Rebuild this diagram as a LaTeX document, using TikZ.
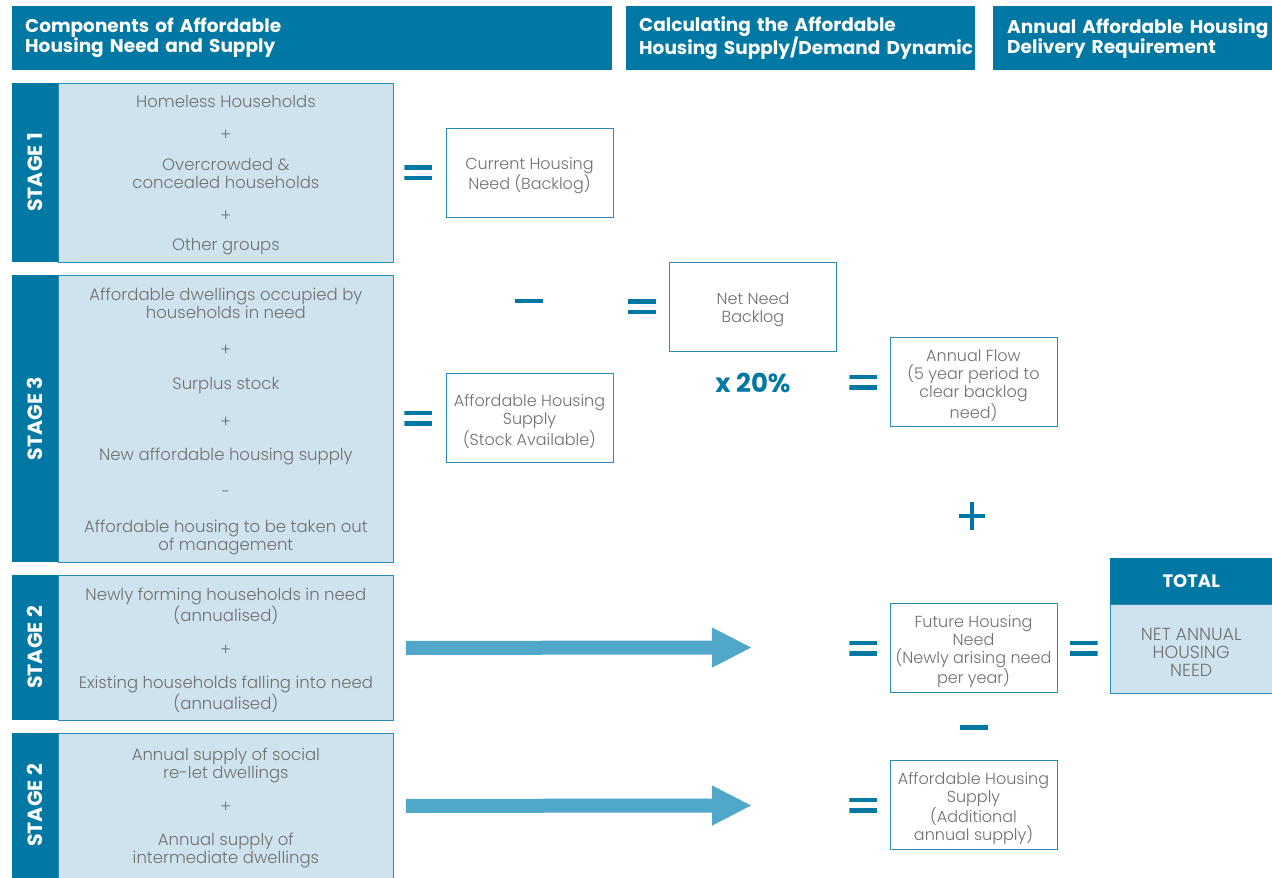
\documentclass[tikz,border=0pt]{standalone}
\usepackage{fontspec}
\setmainfont{Poppins}
\IfFontExistsTF{Poppins Light}{\newfontfamily\lightfont{Poppins Light}}{\newfontfamily\lightfont{Poppins}}
\usetikzlibrary{positioning, arrows.meta, calc}

\definecolor{headblue}{RGB}{0,120,163}
\definecolor{paleblue}{RGB}{206,227,237}
\definecolor{lineblue}{RGB}{42,140,180}
\definecolor{arrowblue}{RGB}{80,167,201}
\definecolor{textgrey}{RGB}{112,112,112}

% struts that push a block of text a little lower in its box
\newcommand{\stagestrut}{\rule{0pt}{17pt}}
\newcommand{\boxstrut}{\rule{0pt}{19pt}}

\begin{document}
\begin{tikzpicture}[
                x=1pt, y=-1pt,
                header/.style={fill=headblue, text=white, anchor=north west, inner xsep=13pt, inner ysep=0pt,
                    minimum height=64pt, align=left, font=\fontsize{18.5}{20}\selectfont\bfseries},
                stagebody/.style={fill=paleblue, draw=lineblue, line width=0.8pt, text=textgrey, anchor=north west,
                    inner sep=0pt, minimum width=335pt, align=center, font=\lightfont\fontsize{16.5}{18}\selectfont},
                stageside/.style={fill=headblue, text=white, rotate=90, inner sep=0pt, minimum height=46pt,
                    font=\fontsize{20.5}{22}\selectfont\bfseries},
                resbox/.style={draw=lineblue, line width=0.8pt, fill=white, text=textgrey, inner sep=0pt,
                    minimum width=167pt, minimum height=89pt, align=center, font=\lightfont\fontsize{16}{18}\selectfont},
                eqsign/.style={inner sep=0pt, minimum width=28pt, minimum height=15pt, path picture={
                    \fill[headblue] (path picture bounding box.north west) rectangle ([yshift=-4.5pt]path picture bounding box.north east);
                    \fill[headblue] ([yshift=4.5pt]path picture bounding box.south west) rectangle (path picture bounding box.south east);}},
                minussign/.style={inner sep=0pt, minimum width=28pt, minimum height=4.5pt, fill=headblue},
                plussign/.style={inner sep=0pt, minimum width=26pt, minimum height=28pt, path picture={
                    \draw[headblue, line width=4pt] (path picture bounding box.west) -- (path picture bounding box.east);
                    \draw[headblue, line width=4pt] (path picture bounding box.north) -- (path picture bounding box.south);}},
                fatarrow/.style={draw=arrowblue, line width=14pt, -{Triangle[length=40pt, width=37pt, fill=arrowblue]}},
            ]
                \useasboundingbox (0,0) rectangle (1272,878);

                % Column headers
                \node[header, minimum width=600pt, text width=574pt] (head-comp) at (12,6)
                    {\mbox{Components of Affordable}\\\mbox{Housing Need and Supply}};
                \node[header, minimum width=349pt, text width=323pt] (head-calc) at (626,6)
                    {\mbox{Calculating the Affordable}\\\mbox{Housing Supply/Demand Dynamic}};
                \node[header, minimum width=279pt, text width=251pt, inner xsep=14pt] (head-req) at (993,6)
                    {\mbox{Annual Affordable Housing}\\\mbox{Delivery Requirement}};

                % Stage boxes
                \node[stagebody, minimum height=179pt] (s1) at (58,83)
                    {\stagestrut Homeless Households\\[15pt] +\\[12pt] Overcrowded \&\\concealed households\\[15pt] +\\[11pt] Other groups};
                \node[stagebody, minimum height=287pt] (s3) at (58,275)
                    {\stagestrut Affordable dwellings occupied by\\households in need\\[19pt] +\\[16pt] Surplus stock\\[20pt] +\\[15pt]
                     New affordable housing supply\\[19pt] -\\[17pt] Affordable housing to be taken out\\of management};
                \node[stagebody, minimum height=145pt] (s2a) at (58,575)
                    {\stagestrut Newly forming households in need\\(annualised)\\[16pt] +\\[15pt] Existing households falling into need\\(annualised)};
                \node[stagebody, minimum height=145pt] (s2b) at (58,733)
                    {\stagestrut Annual supply of social\\re-let dwellings\\[16pt] +\\[15pt] Annual supply of\\intermediate dwellings};

                % Stage labels down the left side
                \foreach \name/\top/\bot/\num in {s1/83/262/1, s3/275/562/3, s2a/575/720/2, s2b/733/878/2}
                    \node[stageside, minimum width=\bot-\top] (side-\name) at (35,{(\top+\bot)/2}) {STAGE \num};

                % Result boxes
                \node[resbox] (cur) at (529.5,172.5) {\boxstrut Current Housing\\Need (Backlog)};
                \node[resbox] (stock) at (529.5,418) {\boxstrut Affordable Housing\\Supply\\(Stock Available)};
                \node[resbox] (net) at (753,306.5) {\boxstrut Net Need\\Backlog};
                \node[resbox] (flow) at (973.5,382) {\boxstrut Annual Flow\\(5 year period to\\clear backlog\\need)};
                \node[resbox] (future) at (973.5,648) {\boxstrut Future Housing\\Need\\(Newly arising need\\per year)};
                \node[resbox] (addl) at (973.5,805) {\boxstrut Affordable Housing\\Supply\\(Additional\\annual supply)};

                % Total
                \node[fill=headblue, text=white, anchor=north west, minimum width=162pt, minimum height=46pt,
                    inner sep=0pt, font=\fontsize{18}{20}\selectfont\bfseries] (total-head) at (1110,558) {TOTAL};
                \node[fill=paleblue, draw=lineblue, line width=0.8pt, text=textgrey, anchor=north, minimum width=162pt,
                    minimum height=89pt, inner sep=0pt, align=center, font=\lightfont\fontsize{17.5}{18}\selectfont]
                    (total-body) at (total-head.south) {\boxstrut NET ANNUAL\\HOUSING\\NEED};

                % Operators
                \node[eqsign, left=13pt of cur] (eq-cur) {};
                \node[eqsign, left=13pt of stock] (eq-stock) {};
                \node[eqsign, left=13pt of net] (eq-net) {};
                \node[eqsign, left=12pt of flow] (eq-flow) {};
                \node[eqsign, left=12pt of future] (eq-future) {};
                \node[eqsign, left=12pt of addl] (eq-addl) {};
                \node[eqsign, left=12pt of total-body.west |- future] (eq-total) {};
                \node[minussign] (minus-net) at (529,301) {};
                \node[minussign, below=32pt of future] (minus-future) {};
                \node[plussign] (plus-flow) at (972,516) {};
                \node[text=headblue, font=\fontsize{26}{28}\selectfont\bfseries] (pct) at (753,383) {x 20\%};

                % Flow arrows
                \coordinate (arr-future) at (752,647.5);
                \coordinate (arr-addl) at (752,805.5);
                \draw[fatarrow] ([xshift=12pt]s2a.east) -- (arr-future);
                \draw[fatarrow] ([xshift=12pt]s2b.east) -- (arr-addl);
            \end{tikzpicture}
\end{document}
